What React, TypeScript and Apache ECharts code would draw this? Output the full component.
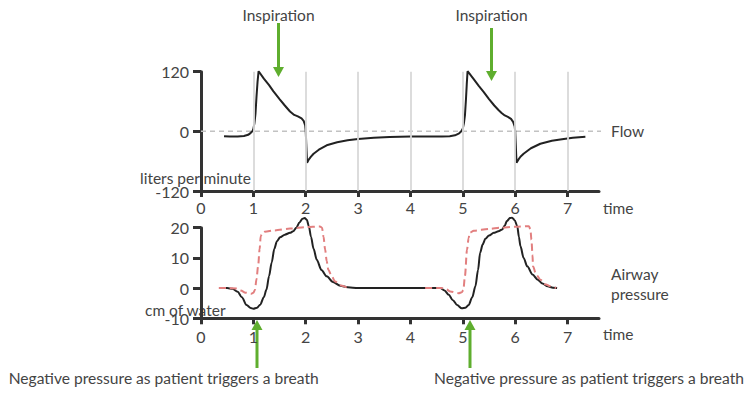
import React, { useEffect, useRef } from "react";
import * as echarts from "echarts";

const timeTicks = [0, 1, 2, 3, 4, 5, 6, 7];
const gridTimes = [1, 2, 3, 4, 5, 6, 7];
const flowRange = [-120, 120];
const pressureRange = [-10, 20];

// Flow (liters per minute) vs time
const flowData: [number, number][] = [
  [0.44, -10], [0.55, -10.5], [0.7, -10.5], [0.82, -9.5], [0.9, -7], [0.95, -3], [0.98, 0],
  [1.0, 5], [1.02, 16], [1.04, 35], [1.06, 70], [1.08, 100], [1.1, 121],
  [1.2, 106], [1.3, 93], [1.38, 81], [1.5, 65], [1.6, 52], [1.7, 40], [1.78, 33],
  [1.85, 30], [1.92, 26], [1.96, 21], [1.99, 12], [2.0, 0], [2.01, -25], [2.02, -50],
  [2.025, -63], [2.05, -58], [2.1, -51], [2.15, -45], [2.25, -37], [2.4, -28],
  [2.6, -22], [2.8, -18], [3.0, -15.5], [3.3, -13], [3.6, -11.5], [4.0, -10.5],
  [4.4, -10.5], [4.6, -10.5], [4.75, -10], [4.85, -8], [4.93, -4], [4.97, 0],
  [5.0, 6], [5.02, 16], [5.04, 32], [5.06, 65], [5.075, 95], [5.09, 121],
  [5.2, 106], [5.3, 92], [5.4, 79], [5.5, 65], [5.6, 52], [5.68, 43], [5.74, 37],
  [5.8, 32], [5.86, 29], [5.92, 25], [5.96, 19], [5.99, 10], [6.0, 0], [6.01, -25],
  [6.02, -50], [6.025, -63], [6.06, -57], [6.1, -51], [6.16, -45], [6.3, -34],
  [6.48, -25], [6.7, -19], [6.86, -16.5], [7.1, -13], [7.34, -11],
];

// Airway pressure (cm of water), patient-triggered curve
const pressureData: [number, number][] = [
  [0.36, 0], [0.5, 0], [0.6, -0.2], [0.7, -1.2], [0.78, -3], [0.87, -5.6], [0.95, -6.6],
  [1.0, -6.8], [1.07, -6.5], [1.13, -5.5], [1.2, -3], [1.25, -0.5], [1.3, 4],
  [1.35, 8.5], [1.4, 13], [1.45, 15.5], [1.51, 16.8], [1.6, 17.7], [1.7, 18.3],
  [1.76, 18.8], [1.82, 20], [1.88, 21.7], [1.94, 23], [1.98, 23.2], [2.02, 22.6],
  [2.06, 20.5], [2.1, 17], [2.15, 13], [2.21, 9.4], [2.3, 6], [2.4, 3.9], [2.52, 2],
  [2.66, 0.8], [2.8, 0.3], [3.0, 0], [3.5, 0], [4.0, 0], [4.4, 0],
  [4.57, 0], [4.65, -0.8], [4.73, -2.2], [4.81, -4], [4.89, -5.6], [4.98, -6.7],
  [5.05, -6.5], [5.11, -5.6], [5.18, -3], [5.24, 0.6], [5.29, 6], [5.33, 11.7],
  [5.38, 14.5], [5.43, 16.3], [5.5, 17.4], [5.59, 18.3], [5.68, 18.8], [5.75, 19.4],
  [5.8, 20.7], [5.84, 22.2], [5.9, 23.2], [5.94, 23.3], [5.99, 22.5], [6.04, 20.5],
  [6.07, 17], [6.1, 13.9], [6.16, 10], [6.23, 7.2], [6.33, 4.5], [6.43, 2.8],
  [6.52, 1.5], [6.62, 0.6], [6.72, 0.1], [6.8, 0],
];

// Dashed reference pressure (two breaths)
const setPressure1: [number, number][] = [
  [0.34, 0], [0.5, 0], [0.68, -0.1], [0.76, -0.8], [0.85, -1.5], [0.96, -1.9], [1.0, -1.5],
  [1.03, -0.6], [1.06, 3], [1.09, 7.2], [1.12, 13], [1.14, 17.2], [1.17, 18.3],
  [1.22, 18.7], [1.4, 19.1], [1.7, 19.7], [2.0, 20.2], [2.27, 20.4], [2.31, 20],
  [2.34, 17], [2.37, 12.8], [2.4, 9], [2.43, 6.1], [2.5, 3.8], [2.56, 2.2],
  [2.67, 0.9], [2.79, 0.2],
];
const setPressure2: [number, number][] = [
  [4.28, 0], [4.6, 0], [4.68, -0.4], [4.76, -1.1], [4.92, -1.7], [4.98, -1.4],
  [5.01, -0.6], [5.04, 4], [5.08, 12.8], [5.11, 16.5], [5.13, 18.3], [5.21, 19],
  [5.5, 19.6], [5.72, 20], [6.0, 20.3], [6.26, 20.5], [6.29, 19.5], [6.31, 16],
  [6.33, 11], [6.34, 7.2], [6.4, 4.5], [6.48, 2.8], [6.57, 1.3], [6.67, 0.6], [6.78, 0],
];

// Zero-flow reference line
const zeroLine: [number, number][] = [[0, 0], [7.71, 0]];

const FONT = "Lato";
const TEXT = "#444";
const AXIS = "#333";
const GREEN = "#5fae2e";

function xAxisCfg(gridIndex: number, margin: number) {
  return {
    type: "value",
    gridIndex,
    min: 0,
    max: 7.6,
    interval: 1,
    axisLine: { show: true, onZero: false, lineStyle: { color: AXIS, width: 3 } },
    axisTick: { show: true, customValues: timeTicks, length: 6, lineStyle: { color: AXIS, width: 3 } },
    axisLabel: { customValues: timeTicks, margin, fontSize: 16, color: TEXT, fontFamily: FONT },
    splitLine: { show: false },
  };
}

function yAxisCfg(gridIndex: number, range: number[], interval: number) {
  return {
    type: "value",
    gridIndex,
    min: range[0],
    max: range[1],
    interval,
    axisLine: { show: true, onZero: false, lineStyle: { color: AXIS, width: 3 } },
    axisTick: { show: true, length: 8, lineStyle: { color: AXIS, width: 3 } },
    axisLabel: { margin: 12, fontSize: 16, color: TEXT, fontFamily: FONT },
    splitLine: { show: false },
  };
}

function arrowDown(x: number, y0: number, tip: number) {
  return [
    { type: "line", shape: { x1: x, y1: y0, x2: x, y2: tip - 9 }, style: { stroke: GREEN, lineWidth: 3 } },
    { type: "polygon", shape: { points: [[x - 5.5, tip - 10], [x + 5.5, tip - 10], [x, tip]] }, style: { fill: GREEN } },
  ];
}
function arrowUp(x: number, tip: number, y1: number) {
  return [
    { type: "line", shape: { x1: x, y1: tip + 9, x2: x, y2: y1 }, style: { stroke: GREEN, lineWidth: 3 } },
    { type: "polygon", shape: { points: [[x - 5.5, tip + 10], [x + 5.5, tip + 10], [x, tip]] }, style: { fill: GREEN } },
  ];
}

function txt(x: number, y: number, text: string, align = "left", size = 15.5) {
  return {
    type: "text",
    x,
    y,
    style: { text, fill: TEXT, fontSize: size, fontFamily: FONT, align, verticalAlign: "middle" },
  };
}

export default function App() {
  const ref = useRef<HTMLDivElement>(null);
  useEffect(() => {
    if (!ref.current) return;
    const chart = echarts.init(ref.current, null, { renderer: "svg" });
    const gridLineStyle = { color: "#d9d9d9", width: 1.8, type: "solid" };
    chart.setOption({
      animation: false,
      backgroundColor: "#fff",
      grid: [
        { left: 201, top: 71.7, width: 398, height: 119.3 },
        { left: 201, top: 227.7, width: 398, height: 90.6 },
      ],
      xAxis: [xAxisCfg(0, 8), xAxisCfg(1, 10)],
      yAxis: [yAxisCfg(0, flowRange, 120), yAxisCfg(1, pressureRange, 10)],
      series: [
        {
          type: "line",
          xAxisIndex: 0,
          yAxisIndex: 0,
          data: [],
          z: 1,
          clip: false,
          markLine: {
            silent: true,
            symbol: ["none", "none"],
            label: { show: false },
            lineStyle: gridLineStyle,
            data: gridTimes.map((t) => [{ coord: [t, flowRange[0]] }, { coord: [t, flowRange[1]] }]),
          },
        },
        {
          type: "line",
          xAxisIndex: 0,
          yAxisIndex: 0,
          data: zeroLine,
          showSymbol: false,
          symbol: "none",
          clip: false,
          z: 2,
          lineStyle: { color: "#c2c2c2", width: 1.5, type: [5, 4] },
        },
        {
          type: "line",
          xAxisIndex: 1,
          yAxisIndex: 1,
          data: [],
          z: 1,
          clip: false,
          markLine: {
            silent: true,
            symbol: ["none", "none"],
            label: { show: false },
            lineStyle: gridLineStyle,
            data: gridTimes.map((t) => [{ coord: [t, pressureRange[0]] }, { coord: [t, 24.5] }]),
          },
        },
        {
          name: "Flow",
          type: "line",
          xAxisIndex: 0,
          yAxisIndex: 0,
          data: flowData,
          showSymbol: false,
          symbol: "none",
          clip: false,
          z: 3,
          lineStyle: { color: "#222", width: 2 },
        },
        {
          name: "Airway pressure",
          type: "line",
          xAxisIndex: 1,
          yAxisIndex: 1,
          data: pressureData,
          showSymbol: false,
          symbol: "none",
          smooth: 0.3,
          smoothMonotone: "x",
          clip: false,
          z: 3,
          lineStyle: { color: "#222", width: 2 },
        },
        ...[setPressure1, setPressure2].map((d) => ({
          type: "line",
          xAxisIndex: 1,
          yAxisIndex: 1,
          data: d,
          showSymbol: false,
          symbol: "none",
          smooth: 0.3,
          smoothMonotone: "x",
          clip: false,
          z: 4,
          lineStyle: { color: "#e27f7f", width: 2, type: [7, 4] },
        })),
      ],
      graphic: [
        txt(278.5, 15, "Inspiration", "center"),
        txt(491.5, 15, "Inspiration", "center"),
        ...arrowDown(278.5, 23, 77),
        ...arrowDown(491.5, 28, 81),
        ...arrowUp(257, 320, 368),
        ...arrowUp(470, 320, 368),
        txt(611, 131, "Flow"),
        txt(603, 208, "time"),
        txt(603, 334, "time"),
        txt(611, 274, "Airway"),
        txt(611, 294, "pressure"),
        txt(251, 178, "liters per minute", "right"),
        txt(145, 310, "cm of water"),
        txt(8.7, 378, "Negative pressure as patient triggers a breath", "left", 15.6),
        txt(434, 378, "Negative pressure as patient triggers a breath", "left", 15.6),
      ],
    });
    return () => chart.dispose();
  }, []);
  return (
    <div
      ref={ref}
      style={{ position: "fixed", left: 0, top: 0, width: 750, height: 398 }}
    />
  );
}
